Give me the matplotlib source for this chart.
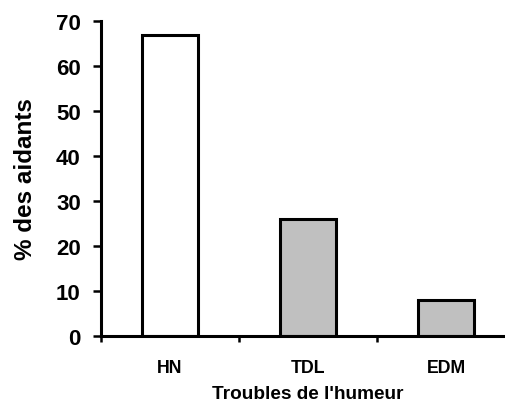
import numpy as np
import matplotlib.pyplot as plt

# data
categories = ['HN', 'TDL', 'EDM']
pourcentages = [67, 26, 8]
couleurs = ['white', '#C0C0C0', '#C0C0C0']

plt.rcParams['font.family'] = ['Liberation Sans', 'DejaVu Sans']
plt.rcParams['font.weight'] = 'bold'

fig = plt.figure(figsize=(5.05, 4.10), dpi=100)
ax = fig.add_axes([0.2, 0.179, 0.82, 0.767])

x = np.arange(len(categories))
ax.bar(x, pourcentages, width=0.4, color=couleurs, edgecolor='black', linewidth=2.2)

ax.set_xlim(-0.5, 2.5)
ax.set_ylim(0, 70)
ax.set_yticks(np.arange(0, 71, 10))
ax.set_xticks(x)
ax.set_xticklabels(categories)
ax.set_xticks(np.arange(-0.5, 2.6, 1), minor=True)

for s in ['top', 'right']:
    ax.spines[s].set_visible(False)
for s in ['left', 'bottom']:
    ax.spines[s].set_linewidth(2.2)

ax.tick_params(axis='y', direction='out', length=6, width=1.8, labelsize=16, pad=8.5)
ax.tick_params(axis='x', which='major', length=0, labelsize=12.8, pad=16.5)
ax.tick_params(axis='x', which='minor', direction='out', length=4, width=1.8)
for lbl in ax.get_yticklabels() + ax.get_xticklabels():
    lbl.set_fontweight('bold')

ax.set_ylabel('% des aidants', fontsize=17.5, fontweight='bold')
ax.yaxis.set_label_coords(-0.155, 0.5)
ax.set_xlabel("Troubles de l'humeur", fontsize=13.7, fontweight='bold', labelpad=7)

fig.savefig('out.png', dpi=100)
